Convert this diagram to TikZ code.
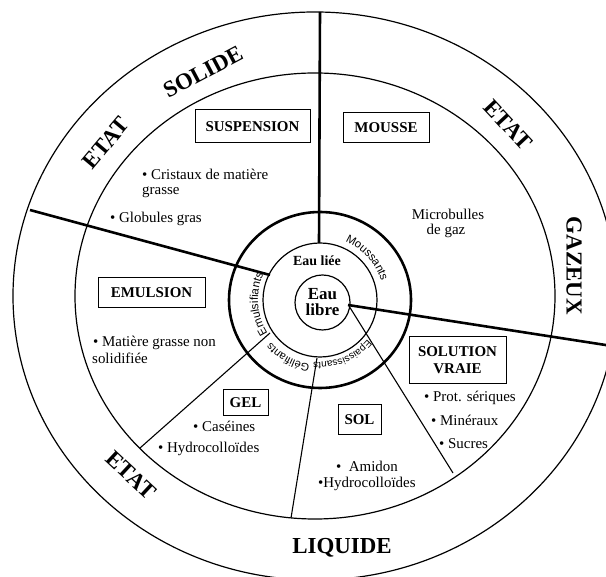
\documentclass[tikz,border=0pt]{standalone}
\usepackage{fontspec}
\setmainfont{Liberation Serif}
\setsansfont{Liberation Sans}
\usetikzlibrary{decorations.text,calc}
\begin{document}
\begin{tikzpicture}[x=1bp,y=1bp,
  ring/.style={line width=1.2pt},
  thickline/.style={line width=2.6pt},
  thinline/.style={line width=1.1pt},
  boxlab/.style={draw, line width=1pt, font=\fontsize{15}{17}\selectfont\bfseries, inner sep=0pt, align=center},
  body/.style={font=\fontsize{15}{16}\selectfont, inner sep=0pt, anchor=base west},
  bodyc/.style={font=\fontsize{15}{16}\selectfont, inner sep=0pt, anchor=base},
  big/.style={font=\fontsize{23}{25}\selectfont\bfseries, inner sep=0pt},
  arclab/.style={decorate, decoration={text along path, text align=center, text={#1}}}
]
\path[use as bounding box] (0,0) rectangle (606,577);
\clip (0,0) rectangle (606,577);
\coordinate (co) at (315,281);
\coordinate (ci) at (320,277);
% rings
\draw[ring] (co) ellipse [x radius=302bp, y radius=284bp];
\draw[ring] (co) ellipse [x radius=240bp, y radius=223bp];
\draw[line width=2.6pt] (ci) ellipse [x radius=91bp, y radius=88bp];
\draw[ring] (ci) circle [radius=57bp];
\node[draw, line width=1.2pt, circle, minimum size=55bp, inner sep=0pt, align=center,
      font=\fontsize{17}{19}\selectfont\bfseries] (libre) at (322.5,274.5) {Eau\\[-3pt]libre};
% dividers
\coordinate (t1) at (320,565); \coordinate (t2) at (319,334);
\coordinate (l1) at (30,367);  \coordinate (l2) at (270,302);
\coordinate (r1) at (348,272); \coordinate (r2) at (612,231);
\coordinate (g1) at (270,244); \coordinate (g2) at (140,129);
\coordinate (s1) at (317,219); \coordinate (s2) at (291,59);
\coordinate (v1) at (349,271); \coordinate (v2) at (453,104);
\draw[thickline] (t1) -- (t2);
\draw[thickline] (l1) -- (l2);
\draw[thickline] (r1) -- (r2);
\draw[thinline] (g1) -- (g2);
\draw[thinline] (s1) -- (s2);
\draw[thinline] (v1) -- (v2);
% arc labels
\path[arclab={|\sffamily\fontsize{11.5}{13}\selectfont|Moussants}] ($(ci)+(80:64bp)$) arc[start angle=80, end angle=4, radius=64bp];
\path[arclab={|\sffamily\fontsize{11.5}{13}\selectfont|Emulsifiants}] ($(ci)+(222:62bp)$) arc[start angle=222, end angle=146, radius=62bp];
\path[arclab={|\sffamily\fontsize{11}{13}\selectfont|Gélifiants}] ($(ci)+(270:65bp)$) arc[start angle=270, end angle=212, radius=65bp];
\path[arclab={|\sffamily\fontsize{10}{12}\selectfont|Epaississants}] ($(ci)+(326:62bp)$) arc[start angle=326, end angle=258, radius=62bp];
\node[font=\fontsize{14}{16}\selectfont\bfseries, inner sep=0pt] (lie) at (317,316) {Eau liée};
% boxes
\node[boxlab, minimum width=115bp, minimum height=33bp] (susp) at (252.5,450.5) {SUSPENSION};
\node[boxlab, minimum width=86bp, minimum height=30bp] (mousse) at (386,449) {MOUSSE};
\node[boxlab, minimum width=107bp, minimum height=30bp] (emul) at (151.5,284) {EMULSION};
\node[boxlab, minimum width=45bp, minimum height=26bp] (gel) at (245.5,174) {GEL};
\node[boxlab, minimum width=43bp, minimum height=30bp] (sol) at (359.5,157) {SOL};
\node[boxlab, minimum width=97bp, minimum height=47bp] (solv) at (457.5,216.5) {SOLUTION\\VRAIE};
% body texts
\node[body] (b1) at (142,397) {• Cristaux de matière};
\node[body] (b2) at (142,382) {grasse};
\node[body] (b3) at (110,354) {• Globules gras};
\node[bodyc] (b4) at (448,357) {Microbulles};
\node[bodyc] (b5) at (446,342) {de gaz};
\node[body] (b6) at (93,230) {• Matière grasse non};
\node[body] (b7) at (92,213) {solidifiée};
\node[body] (b8) at (193,145) {• Caséines};
\node[body] (b9) at (158,124) {• Hydrocolloïdes};
\node[body] (b10) at (336,105) {•\ \ Amidon};
\node[body] (b11) at (318,89) {•Hydrocolloïdes};
\node[body] (b12) at (424,175) {• Prot. sériques};
\node[body] (b13) at (431,151) {• Minéraux};
\node[body] (b14) at (439,128) {• Sucres};
% state labels
\node[big, rotate=50] (e1) at (106,434) {ETAT};
\node[big, rotate=28] (e2) at (203,505) {SOLIDE};
\node[big, rotate=-47] (e3) at (508,452) {ETAT};
\node[big, rotate=-90] (e4) at (574,311) {GAZEUX};
\node[big, rotate=-43] (e5) at (131,102) {ETAT};
\node[big] (e6) at (342,29) {LIQUIDE};
\end{tikzpicture}
\end{document}
